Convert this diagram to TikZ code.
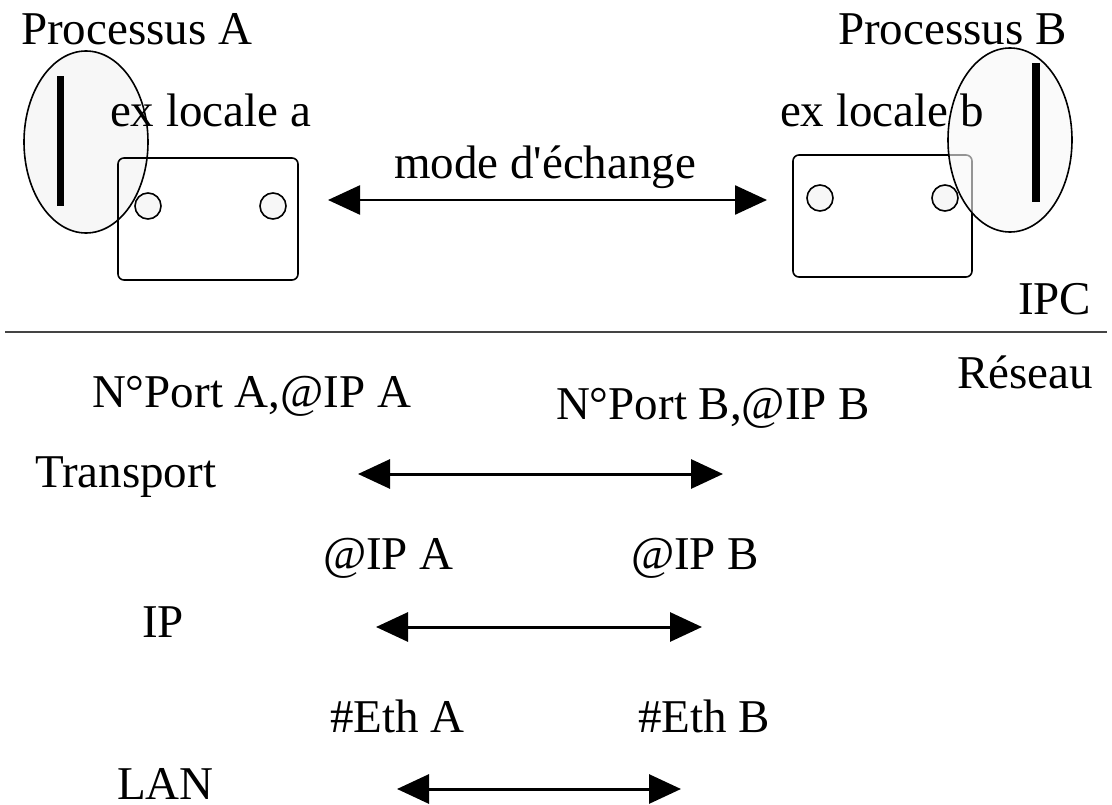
\documentclass[tikz,border=0pt]{standalone}
\usepackage{fontspec}
\setmainfont{Liberation Serif}
\usetikzlibrary{arrows.meta}
\definecolor{lightfill}{HTML}{F7F7F7}
\definecolor{sepgray}{HTML}{444444}
\tikzset{
  lbl/.style={anchor=base west, inner sep=0pt, outer sep=0pt, font=\fontsize{47}{50}\selectfont},
  procell/.style={draw=black, line width=1.6pt, fill=lightfill},
  sockbox/.style={draw=black, line width=1.6pt, rounded corners=6pt},
  port/.style={draw=black, line width=1.6pt, fill=lightfill},
  bar/.style={fill=black},
  twoway/.style={line width=2.5pt, {Triangle[length=32pt,width=29pt]}-{Triangle[length=32pt,width=29pt]}},
  twowaylow/.style={twoway, line width=3pt},
  sep/.style={draw=sepgray, line width=1.5pt}
}
\begin{document}
\begin{tikzpicture}[x=1pt,y=-1pt]
\useasboundingbox (0,0) rectangle (1112,805);
% process A
\draw[procell] (86,142) ellipse [x radius=62, y radius=91];
\fill[bar] (57,76) rectangle (64,206);
\draw[sockbox] (118,158) rectangle (298,280);
\draw[port] (148,206) circle (13);
\draw[port] (273,206) circle (13);
% process B
\draw[sockbox] (793,155) rectangle (972,277);
\draw[port] (820,198) circle (13);
\draw[port] (945,198) circle (13);
\draw[procell, fill opacity=0.6] (1010,140) ellipse [x radius=62, y radius=92];
\fill[bar] (1032,63) rectangle (1040,202);
% texts
\node[lbl] (pa) at (21,45) {Processus A};
\node[lbl] (pb) at (838,45) {Processus B};
\node[lbl] (la) at (110,127) {ex locale a};
\node[lbl] (lb) at (780,127) {ex locale b};
\node[lbl] (mode) at (394,179) {mode d\textquotesingle échange};
\coordinate (m1) at (328,200);
\coordinate (m2) at (767,200);
\draw[twoway] (m1) -- (m2);
% separator
\coordinate (s1) at (5,332);
\coordinate (s2) at (1107,332);
\draw[sep] (s1) -- (s2);
\node[lbl] (ipc) at (1018,315) {IPC};
\node[lbl] (res) at (957,388) {Réseau};
% transport
\node[lbl] (npa) at (92,407) {N°Port A,@IP A};
\node[lbl] (npb) at (556,419) {N°Port B,@IP B};
\node[lbl] (tr) at (35,487) {Transport};
\coordinate (t1) at (358,474);
\coordinate (t2) at (723,474);
\draw[twowaylow] (t1) -- (t2);
% IP
\node[lbl] (ipa) at (323,569) {@IP A};
\node[lbl] (ipb) at (631,569) {@IP B};
\node[lbl] (ip) at (142,637) {IP};
\coordinate (i1) at (376,627);
\coordinate (i2) at (702,627);
\draw[twowaylow] (i1) -- (i2);
% LAN
\node[lbl] (ea) at (330,732) {\#Eth A};
\node[lbl] (eb) at (638,732) {\#Eth B};
\node[lbl] (lan) at (117,799) {LAN};
\coordinate (l1) at (397,789);
\coordinate (l2) at (681,789);
\draw[twowaylow] (l1) -- (l2);
\end{tikzpicture}
\end{document}
